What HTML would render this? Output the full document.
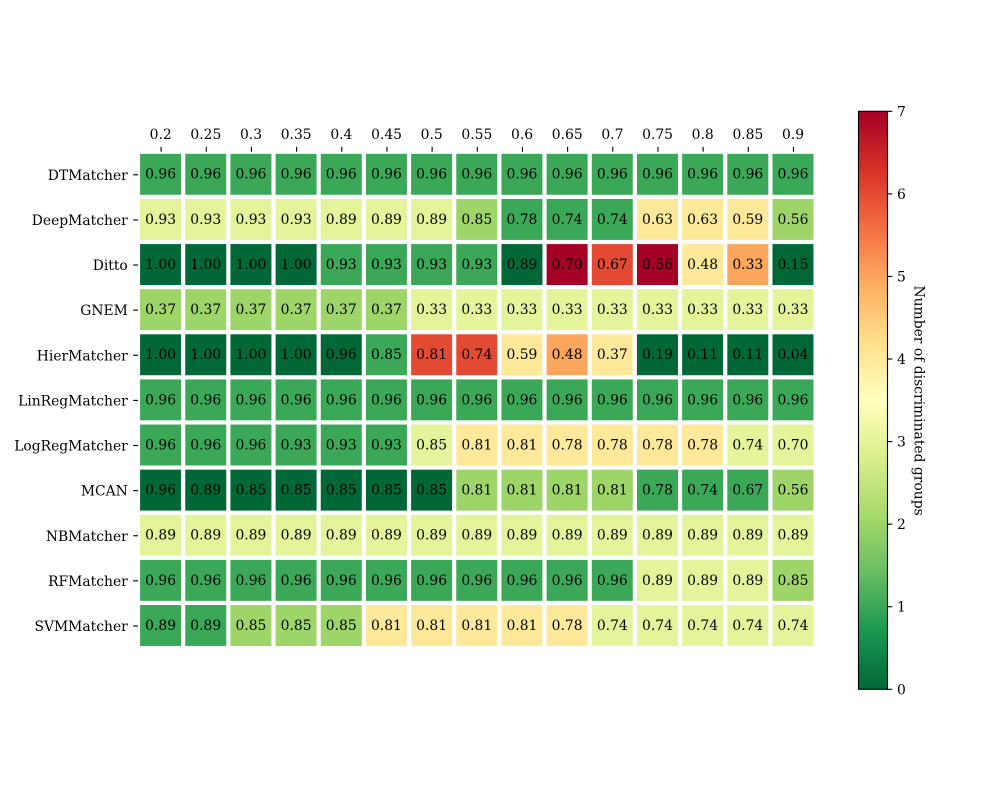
<!DOCTYPE html>
<html>
<head>
<meta charset="utf-8">
<title>Discriminated groups heatmap</title>
<style>
html,body{margin:0;padding:0;background:#fff;width:1000px;height:800px;overflow:hidden}
svg{display:block}
text{font-family:"DejaVu Serif","Liberation Serif",serif;font-size:13.89px;fill:#000}
</style>
</head>
<body>
<svg id="chart" width="1000" height="800" viewBox="0 0 1000 800" xmlns="http://www.w3.org/2000/svg">
<defs><linearGradient id="cbar-gradient" x1="0" y1="1" x2="0" y2="0"></linearGradient></defs>
<rect width="1000" height="800" fill="#fff"/>
<g id="cells"></g>
<g id="xticks"></g>
<g id="yticks"></g>
<g id="cbar"></g>
</svg>
<script>
const thresholds = ["0.2","0.25","0.3","0.35","0.4","0.45","0.5","0.55","0.6","0.65","0.7","0.75","0.8","0.85","0.9"];
const matchers = ["DTMatcher","DeepMatcher","Ditto","GNEM","HierMatcher","LinRegMatcher","LogRegMatcher","MCAN","NBMatcher","RFMatcher","SVMMatcher"];
const accuracy = [
[0.96,0.96,0.96,0.96,0.96,0.96,0.96,0.96,0.96,0.96,0.96,0.96,0.96,0.96,0.96],
[0.93,0.93,0.93,0.93,0.89,0.89,0.89,0.85,0.78,0.74,0.74,0.63,0.63,0.59,0.56],
[1.00,1.00,1.00,1.00,0.93,0.93,0.93,0.93,0.89,0.70,0.67,0.56,0.48,0.33,0.15],
[0.37,0.37,0.37,0.37,0.37,0.37,0.33,0.33,0.33,0.33,0.33,0.33,0.33,0.33,0.33],
[1.00,1.00,1.00,1.00,0.96,0.85,0.81,0.74,0.59,0.48,0.37,0.19,0.11,0.11,0.04],
[0.96,0.96,0.96,0.96,0.96,0.96,0.96,0.96,0.96,0.96,0.96,0.96,0.96,0.96,0.96],
[0.96,0.96,0.96,0.93,0.93,0.93,0.85,0.81,0.81,0.78,0.78,0.78,0.78,0.74,0.70],
[0.96,0.89,0.85,0.85,0.85,0.85,0.85,0.81,0.81,0.81,0.81,0.78,0.74,0.67,0.56],
[0.89,0.89,0.89,0.89,0.89,0.89,0.89,0.89,0.89,0.89,0.89,0.89,0.89,0.89,0.89],
[0.96,0.96,0.96,0.96,0.96,0.96,0.96,0.96,0.96,0.96,0.96,0.89,0.89,0.89,0.85],
[0.89,0.89,0.85,0.85,0.85,0.81,0.81,0.81,0.81,0.78,0.74,0.74,0.74,0.74,0.74]
];
const groupCounts = [
[1,1,1,1,1,1,1,1,1,1,1,1,1,1,1],
[3,3,3,3,3,3,3,2,1,1,1,4,4,4,2],
[0,0,0,0,1,1,1,1,0,7,6,7,4,5,0],
[2,2,2,2,2,2,3,3,3,3,3,3,3,3,3],
[0,0,0,0,0,1,6,6,4,5,4,0,0,0,0],
[1,1,1,1,1,1,1,1,1,1,1,1,1,1,1],
[1,1,1,1,1,1,3,4,4,4,4,4,4,3,3],
[0,0,0,0,0,0,0,2,2,2,2,1,1,1,2],
[3,3,3,3,3,3,3,3,3,3,3,3,3,3,3],
[1,1,1,1,1,1,1,1,1,1,1,3,3,3,2],
[1,1,2,2,2,4,4,4,4,4,3,3,3,3,3]
];
const colorbarTicks = [0,1,2,3,4,5,6,7];
const colormapStops = ["#006837","#1a9850","#66bd63","#a6d96a","#d9ef8b","#ffffbf","#fee08b","#fdae61","#f46d43","#d73027","#a50026"];

const NS = "http://www.w3.org/2000/svg";
const plot = {left:138.0, top:151.74, pitchX:45.17, pitchY:45.12, stroke:4.17};
const bar = {left:858.5, right:887.5, top:111.3, bottom:689.3};
const vmin = colorbarTicks[0];
const vmax = colorbarTicks[colorbarTicks.length-1];

function xScale(i){ return plot.left + plot.pitchX*(i+0.5); }
function yScale(i){ return plot.top + plot.pitchY*(i+0.5); }
function cbarScale(v){ return bar.bottom - (v-vmin)/(vmax-vmin)*(bar.bottom-bar.top); }

function hexRgb(h){ return [1,3,5].map(function(k){ return parseInt(h.substr(k,2),16); }); }
function colorFor(v){
  const t = Math.max(0,Math.min(1,(v-vmin)/(vmax-vmin)))*(colormapStops.length-1);
  const a = Math.min(Math.floor(t),colormapStops.length-2);
  const f = t-a;
  const c0 = hexRgb(colormapStops[a]);
  const c1 = hexRgb(colormapStops[a+1]);
  return "rgb("+c0.map(function(c,k){ return Math.round(c+(c1[k]-c)*f); }).join(",")+")";
}
function make(tag,attrs,parent,text){
  const el = document.createElementNS(NS,tag);
  for(const k in attrs){ el.setAttribute(k,attrs[k]); }
  if(text!==undefined){ el.textContent = text; }
  parent.appendChild(el);
  return el;
}
function slug(s){ return s.toLowerCase().replace(/[^a-z0-9]+/g,'-'); }

const cellsG = document.getElementById('cells');
matchers.forEach(function(name,r){
  thresholds.forEach(function(th,c){
    const w = plot.pitchX - plot.stroke;
    const h = plot.pitchY - plot.stroke;
    const rect = make('rect',{x:(xScale(c)-w/2).toFixed(2),y:(yScale(r)-h/2).toFixed(2),width:w.toFixed(2),height:h.toFixed(2),fill:colorFor(groupCounts[r][c])},cellsG);
    
    
    const label = make('text',{x:xScale(c).toFixed(2),y:(yScale(r)+4.4).toFixed(2),'text-anchor':'middle'},cellsG,accuracy[r][c].toFixed(2));
    
    
  });
});

const xG = document.getElementById('xticks');
thresholds.forEach(function(th,c){
  const x = xScale(c)+0.5;
  const tick = make('line',{x1:x,x2:x,y1:plot.top-4.86,y2:plot.top,stroke:'#000','stroke-width':1.11},xG);
  
  
  const label = make('text',{x:x-0.4,y:139.2,'text-anchor':'middle'},xG,th);
  
  
});

const yG = document.getElementById('yticks');
matchers.forEach(function(name,r){
  const y = yScale(r)+0.5;
  const tick = make('line',{x1:plot.left-4.86,x2:plot.left,y1:y,y2:y,stroke:'#000','stroke-width':1.11},yG);
  
  
  const label = make('text',{x:plot.left-10.2,y:y+5,'text-anchor':'end'},yG,name);
  
  
});

const grad = document.getElementById('cbar-gradient');
colormapStops.forEach(function(col,i){
  make('stop',{offset:(i/(colormapStops.length-1)),'stop-color':col},grad);
});
const cbarG = document.getElementById('cbar');
const cbarFill = make('rect',{x:bar.left,y:bar.top,width:bar.right-bar.left,height:bar.bottom-bar.top,fill:'url(#cbar-gradient)',stroke:'#000','stroke-width':1.11},cbarG);


colorbarTicks.forEach(function(v){
  const y = cbarScale(v);
  const tick = make('line',{x1:bar.right,x2:bar.right+4.86,y1:y,y2:y,stroke:'#000','stroke-width':1.11},cbarG);
  
  
  const label = make('text',{x:bar.right+9.5,y:y+5,'text-anchor':'start'},cbarG,String(v));
  
  
});
const cbarTitle = make('text',{x:0,y:0,'text-anchor':'middle',transform:'translate(914.5 400.6) rotate(90)'},cbarG,'Number of discriminated groups');


</script>
</body>
</html>
